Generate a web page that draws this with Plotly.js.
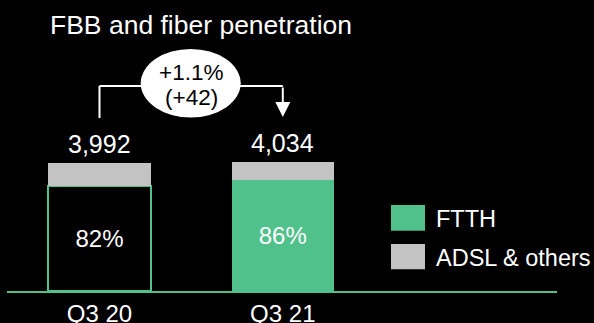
<!DOCTYPE html>
<html><head><meta charset="utf-8">
<script src="https://cdn.plot.ly/plotly-3.0.1.min.js"></script>
<style>html,body{margin:0;padding:0;background:#000;}#chart{width:594px;height:323px;}</style>
</head><body><div id="chart"></div>
<script>
var categories = ['Q3 20', 'Q3 21'];
var totals = [3992, 4034];
var ftthShare = [0.82, 0.86];
var seriesNames = ['FTTH', 'ADSL & others'];

var GREEN = '#50C18A', GREY = '#C3C3C3';
var fonts = 'Liberation Sans, Arial, Helvetica, sans-serif';

var ftth = totals.map(function(t, i){ return Math.round(t * ftthShare[i]); });
var adsl = totals.map(function(t, i){ return t - ftth[i]; });
var pctText = ftthShare.map(function(s){ return Math.round(s * 100) + '%'; });
var fmt = function(v){ return v.toLocaleString('en-US'); };

var changeAbs = totals[1] - totals[0];
var changePct = (changeAbs / totals[0] * 100).toFixed(1);

var BW = 0.559;
var traces = [
  {type:'bar', x:categories, y:ftth, name:seriesNames[0], width:BW,
   marker:{color:['#000000', GREEN], line:{color:[GREEN, GREEN], width:[2, 0]}},
   text:pctText, textposition:'inside', insidetextanchor:'middle',
   textfont:{color:'#ffffff', size:24, family:fonts}, hoverinfo:'none'},
  {type:'bar', x:categories, y:adsl, name:seriesNames[1], width:BW,
   marker:{color:GREY, line:{width:0}}, hoverinfo:'none'}
];

// pixel->data helpers for decoration placement
function vy(px){ return (291 - px) / (291/9100); }
function ux(px){ return (px - 99.5) / 183.3; }

var annotations = totals.map(function(t, i){
  return {x:categories[i], y:t, text:fmt(t), showarrow:false, yanchor:'bottom', yshift:3,
          font:{color:'#ffffff', size:25, family:fonts}};
});
annotations.push(
  {x:0.5, xref:'x', y:vy(72), text:'+' + changePct + '%', showarrow:false,
   font:{color:'#000000', size:22.5, family:fonts}},
  {x:0.5, xref:'x', y:vy(97), text:'(+' + changeAbs + ')', showarrow:false,
   font:{color:'#000000', size:22.5, family:fonts}},
  {x:1, xref:'x', y:vy(117), ax:1, axref:'x', ay:vy(86), ayref:'y', text:'', showarrow:true,
   arrowhead:2, arrowsize:1.5, arrowwidth:2, arrowcolor:'#ffffff', standoff:0},
  {x:ux(434), xref:'x', y:vy(219), text:seriesNames[0], showarrow:false, xanchor:'left',
   font:{color:'#ffffff', size:23.5, family:fonts}},
  {x:ux(434), xref:'x', y:vy(258), text:seriesNames[1], showarrow:false, xanchor:'left',
   font:{color:'#ffffff', size:23.5, family:fonts}}
);

var shapes = [
  {type:'line', xref:'x', yref:'y', x0:0, x1:0, y0:vy(118), y1:vy(86), line:{color:'#fff', width:2}},
  {type:'line', xref:'x', yref:'y', x0:0, x1:ux(142), y0:vy(86), y1:vy(86), line:{color:'#fff', width:2}},
  {type:'line', xref:'x', yref:'y', x0:ux(240), x1:1, y0:vy(86), y1:vy(86), line:{color:'#fff', width:2}},
  {type:'circle', xref:'x', yref:'y', x0:ux(140.7), x1:ux(240.7), y0:vy(117.5), y1:vy(49),
   fillcolor:'#ffffff', line:{width:0}},
  {type:'rect', xref:'x', yref:'y', x0:ux(391), x1:ux(425), y0:vy(230.7), y1:vy(205),
   fillcolor:GREEN, line:{width:0}},
  {type:'rect', xref:'x', yref:'y', x0:ux(391), x1:ux(425), y0:vy(269.3), y1:vy(244),
   fillcolor:GREY, line:{width:0}}
];

var layout = {
  width:594, height:323, paper_bgcolor:'#000', plot_bgcolor:'#000',
  margin:{l:7, r:37, t:0, b:32},
  barmode:'stack', showlegend:false,
  title:{text:'FBB and fiber penetration', x:50/594, xref:'container', xanchor:'left',
         y:1-25/323, yref:'container', yanchor:'middle',
         font:{color:'#ffffff', size:26.5, family:fonts}},
  xaxis:{type:'category', range:[-0.5046, 2.496], showgrid:false, zeroline:false,
         showline:true, linecolor:GREEN, linewidth:2, ticks:'',
         tickfont:{color:'#ffffff', size:24, family:fonts}, fixedrange:true},
  yaxis:{range:[0, 9100], visible:false, showgrid:false, zeroline:false, fixedrange:true},
  annotations:annotations, shapes:shapes
};
Plotly.newPlot('chart', traces, layout, {displayModeBar:false, staticPlot:true});
</script></body></html>
